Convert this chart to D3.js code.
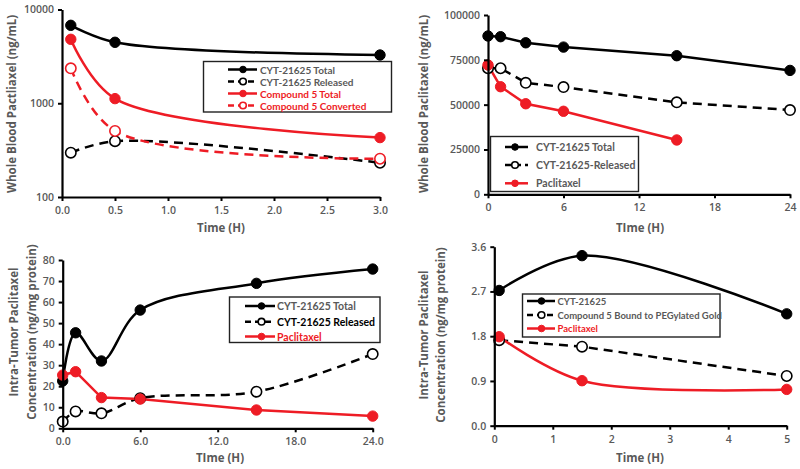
<!DOCTYPE html>
<html><head><meta charset="utf-8">
<script src="https://cdn.jsdelivr.net/npm/d3@7"></script>
<style>
body{margin:0;background:#fff;}
svg{display:block;font-family:"Open Sans",sans-serif;}
</style></head><body>
<svg id="c" width="800" height="469"></svg>
<script>
// ---------- DATA ----------
// Panel 1: whole blood, compound 5 (log scale)
const p1Time = [0.083, 0.5, 3.0];
const p1CytTotal = [6780, 4470, 3270];
const p1CytReleased = [297, 394, 232];
const p1C5Total = [4810, 1120, 430];
const p1C5Converted = [2360, 506, 256];
const p1XTicks = [0, 0.5, 1.0, 1.5, 2.0, 2.5, 3.0];
const p1YTicks = [100, 1000, 10000];

// Panel 2: whole blood, 24 h
const p2Time = [0, 1, 3, 6, 15, 24];
const p2CytTotal = [88300, 87900, 84500, 82100, 77300, 69100];
const p2CytReleased = [70300, 70300, 62200, 59800, 51300, 47000];
const p2TimePac = [0, 1, 3, 6, 15];
const p2Paclitaxel = [72100, 60000, 50500, 46300, 30300];
const p2XTicks = [0, 6, 12, 18, 24];
const p2YTicks = [0, 25000, 50000, 75000, 100000];

// Panel 3: intra-tumor, 24 h
const p3Time = [0, 1, 3, 6, 15, 24];
const p3CytTotal = [22.5, 45.4, 32.0, 56.2, 68.9, 75.7];
const p3CytReleased = [3.2, 8.0, 7.1, 14.3, 17.4, 35.3];
const p3Paclitaxel = [25.3, 26.9, 14.6, 13.9, 8.7, 5.8];
const p3XTicks = [0, 6, 12, 18, 24];
const p3YTicks = [0, 10, 20, 30, 40, 50, 60, 70, 80];

// Panel 4: intra-tumor, 5 h
const p4Time = [0.083, 1.5, 5];
const p4Cyt = [2.72, 3.42, 2.25];
const p4C5Bound = [1.72, 1.59, 1.0];
const p4Paclitaxel = [1.79, 0.905, 0.73];
const p4XTicks = [0, 1, 2, 3, 4, 5];
const p4YTicks = [0, 0.9, 1.8, 2.7, 3.6];

// ---------- DRAWING ----------
const svg = d3.select("#c");
const RED = "#ee1c25", BLACK = "#000", GRAY = "#595959";

function panel(cfg) {
  const g = svg.append("g");
  const x = d3.scaleLinear().domain(cfg.xDomain).range([cfg.left, cfg.right]);
  const y = (cfg.log ? d3.scaleLog() : d3.scaleLinear()).domain(cfg.yDomain).range([cfg.bottom, cfg.top]);

  // series
  cfg.series.forEach(s => {
    const pts = s.x.map((xv, i) => [x(xv), y(s.y[i])]);
    const line = d3.line().curve(s.smooth ? d3.curveCatmullRom.alpha(0.5) : d3.curveLinear);
    g.append("path").attr("d", line(pts)).attr("fill", "none")
      .attr("stroke", s.color).attr("stroke-width", 2.5)
      .attr("stroke-dasharray", s.dashed ? "9,6" : null);
  });
  cfg.series.forEach(s => {
    g.selectAll(null).data(s.x.map((xv, i) => [xv, s.y[i]])).join("circle")
      .attr("cx", d => x(d[0])).attr("cy", d => y(d[1])).attr("r", 5.2)
      .attr("fill", s.open ? "#fff" : s.color)
      .attr("stroke", s.color).attr("stroke-width", s.open ? 1.6 : 1);
  });

  // axes
  const xAxis = d3.axisBottom(x).tickValues(cfg.xTicks).tickFormat(cfg.xFmt).tickSize(4).tickSizeOuter(0);
  const yAxis = d3.axisLeft(y).tickValues(cfg.yTicks).tickFormat(cfg.yFmt).tickSize(4).tickSizeOuter(0);
  const ax = g.append("g").attr("transform", `translate(0,${cfg.bottom})`).call(xAxis);
  const ay = g.append("g").attr("transform", `translate(${cfg.left},0)`).call(yAxis);
  [ax, ay].forEach(a => {
    a.select(".domain").attr("stroke", BLACK).attr("stroke-width", 2.2);
    a.selectAll(".tick line").attr("stroke", BLACK).attr("stroke-width", 2);
    a.selectAll(".tick text").attr("fill", GRAY).attr("font-size", 10.5)
      .attr("font-weight", 600).attr("font-family", '"Open Sans",sans-serif');
  });
  ax.selectAll(".tick text").attr("dy", "0.95em");
  ay.selectAll(".tick text").attr("dx", "-0.1em");

  // axis titles
  g.append("text").attr("x", cfg.xTitlePos[0]).attr("y", cfg.xTitlePos[1])
    .attr("text-anchor", "middle").attr("fill", GRAY).attr("font-size", 11.5).attr("font-weight", 700)
    .text(cfg.xTitle);
  cfg.yTitle.forEach((t, i) => {
    g.append("text").attr("transform", `translate(${cfg.yTitlePos[i][0]},${cfg.yTitlePos[i][1]}) rotate(-90)`)
      .attr("text-anchor", "middle").attr("dominant-baseline", "middle")
      .attr("fill", GRAY).attr("font-size", 11.5).attr("font-weight", 700).text(t);
  });

  // legend
  const L = cfg.legend;
  g.append("rect").attr("x", L.box[0]).attr("y", L.box[1]).attr("width", L.box[2]).attr("height", L.box[3])
    .attr("fill", "#fff").attr("stroke", "#222").attr("stroke-width", 1.4);
  cfg.series.forEach((s, i) => {
    const ly = L.rows[i];
    g.append("line").attr("x1", L.line[0]).attr("x2", L.line[1]).attr("y1", ly).attr("y2", ly)
      .attr("stroke", s.color).attr("stroke-width", 2.5).attr("stroke-dasharray", s.dashed ? "6,4" : null);
    g.append("circle").attr("cx", L.marker).attr("cy", ly).attr("r", 3.3)
      .attr("fill", s.open ? "#fff" : s.color).attr("stroke", s.color).attr("stroke-width", s.open ? 1.6 : 1);
    g.append("text").attr("x", L.text).attr("y", ly).attr("dominant-baseline", "central")
      .attr("font-family", "Lato,sans-serif")
      .attr("fill", s.textColor).attr("font-size", L.fontSize).attr("font-weight", 700)
      .text(s.name);
  });
}

const f1 = d3.format(".1f"), f0 = d3.format("d");

panel({
  left: 62, right: 380, top: 9.5, bottom: 197, log: true,
  xDomain: [0, 3], yDomain: [100, 10000], xTicks: p1XTicks, yTicks: p1YTicks,
  xFmt: f1, yFmt: f0,
  xTitle: "Time (H)", xTitlePos: [221, 232],
  yTitle: ["Whole Blood Pactliaxel (ng/mL)"], yTitlePos: [[12.5, 104]],
  series: [
    {name: "CYT-21625 Total", x: p1Time, y: p1CytTotal, color: BLACK, textColor: GRAY, smooth: true},
    {name: "CYT-21625 Released", x: p1Time, y: p1CytReleased, color: BLACK, textColor: GRAY, smooth: true, dashed: true, open: true},
    {name: "Compound  5 Total", x: p1Time, y: p1C5Total, color: RED, textColor: RED, smooth: true},
    {name: "Compound  5 Converted", x: p1Time, y: p1C5Converted, color: RED, textColor: RED, smooth: true, dashed: true, open: true}
  ],
  legend: {box: [203.5, 61.5, 188, 50.5], rows: [69.5, 81.5, 93.5, 105.5], line: [228, 257], marker: 243, text: 260, fontSize: 10}
});

panel({
  left: 488, right: 790, top: 15, bottom: 194.3,
  xDomain: [0, 24], yDomain: [0, 100000], xTicks: p2XTicks, yTicks: p2YTicks,
  xFmt: f0, yFmt: f0,
  xTitle: "TIme (H)", xTitlePos: [640, 232],
  yTitle: ["Whole Blood Paclitaxel (ng/mL)"], yTitlePos: [[425, 104]],
  series: [
    {name: "CYT-21625 Total", x: p2Time, y: p2CytTotal, color: BLACK, textColor: GRAY},
    {name: "CYT-21625-Released", x: p2Time, y: p2CytReleased, color: BLACK, textColor: GRAY, dashed: true, open: true},
    {name: "Paclitaxel", x: p2TimePac, y: p2Paclitaxel, color: RED, textColor: GRAY}
  ],
  legend: {box: [490.5, 136.5, 148, 55], rows: [147, 165, 183.3], line: [505, 528], marker: 515, text: 536, fontSize: 10.5}
});

panel({
  left: 62.7, right: 372.7, top: 260, bottom: 428.3,
  xDomain: [0, 24], yDomain: [0, 80], xTicks: p3XTicks, yTicks: p3YTicks,
  xFmt: f1, yFmt: f0,
  xTitle: "TIme (H)", xTitlePos: [220, 462],
  yTitle: ["Intra-Tumor Paclitaxel", "Concentration  (ng/mg protein)"], yTitlePos: [[15, 332], [33, 332]],
  series: [
    {name: "CYT-21625 Total", x: p3Time, y: p3CytTotal, color: BLACK, textColor: GRAY, smooth: true},
    {name: "CYT-21625 Released", x: p3Time, y: p3CytReleased, color: BLACK, textColor: BLACK, smooth: true, dashed: true, open: true},
    {name: "Paclitaxel", x: p3Time, y: p3Paclitaxel, color: RED, textColor: RED}
  ],
  legend: {box: [229.5, 297, 150.5, 45.5], rows: [306, 321.7, 336.5], line: [245, 275], marker: 261.5, text: 277, fontSize: 10.5}
});

panel({
  left: 494.3, right: 786.7, top: 246.7, bottom: 425.7,
  xDomain: [0, 5], yDomain: [0, 3.6], xTicks: p4XTicks, yTicks: p4YTicks,
  xFmt: f0, yFmt: f1,
  xTitle: "Time (H)", xTitlePos: [640, 462],
  yTitle: ["Intra-Tumor  Paclitaxel", "Concentration  (ng/mg protein)"], yTitlePos: [[425, 335], [441.7, 335]],
  series: [
    {name: "CYT-21625", x: p4Time, y: p4Cyt, color: BLACK, textColor: GRAY, smooth: true},
    {name: "Compound 5 Bound to PEGylated Gold", x: p4Time, y: p4C5Bound, color: BLACK, textColor: GRAY, dashed: true, open: true},
    {name: "Paclitaxel", x: p4Time, y: p4Paclitaxel, color: RED, textColor: RED, smooth: true}
  ],
  legend: {box: [522.5, 294, 197.5, 43], rows: [301, 315, 328.5], line: [527, 555], marker: 541.5, text: 557.5, fontSize: 9.5}
});
</script>
</body></html>
